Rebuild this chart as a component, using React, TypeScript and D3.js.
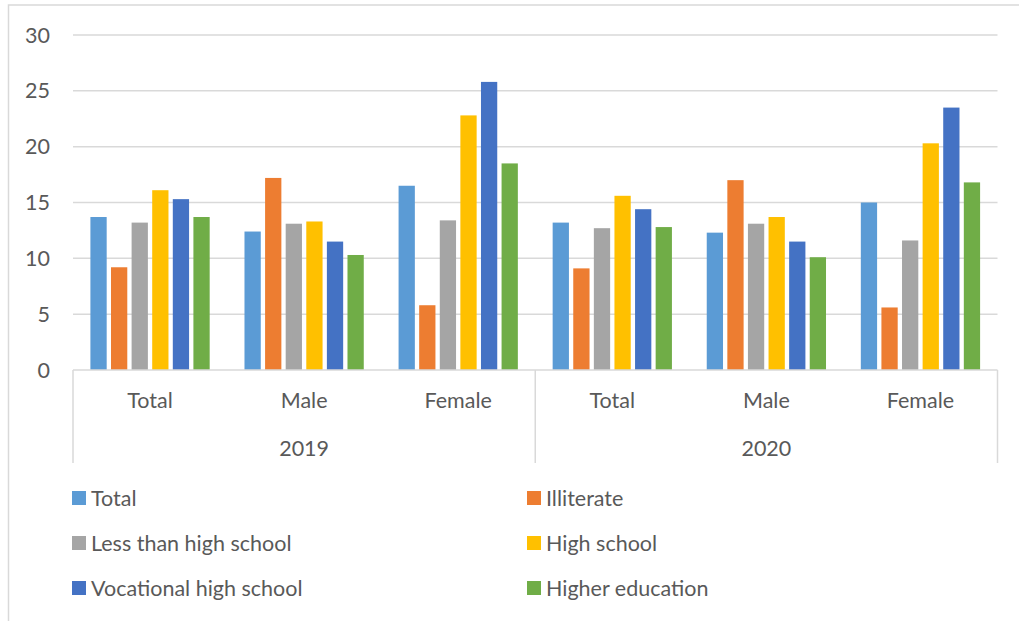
import * as d3 from "d3";

const years = ["2019", "2020"];
const groups = ["Total", "Male", "Female"];
const seriesNames = [
  "Total",
  "Illiterate",
  "Less than high school",
  "High school",
  "Vocational high school",
  "Higher education",
];
const seriesColors = ["#5B9BD5", "#ED7D31", "#A5A5A5", "#FFC000", "#4472C4", "#70AD47"];

// values per category (year x group), in seriesNames order
const total2019 = [13.7, 9.2, 13.2, 16.1, 15.3, 13.7];
const male2019 = [12.4, 17.2, 13.1, 13.3, 11.5, 10.3];
const female2019 = [16.5, 5.8, 13.4, 22.8, 25.8, 18.5];
const total2020 = [13.2, 9.1, 12.7, 15.6, 14.4, 12.8];
const male2020 = [12.3, 17.0, 13.1, 13.7, 11.5, 10.1];
const female2020 = [15.0, 5.6, 11.6, 20.3, 23.5, 16.8];

const yTicks = [0, 5, 10, 15, 20, 25, 30];

const W = 1019;
const H = 621;
const left = 73;
const right = 997.5;
const top = 35;
const bottom = 370;
const font = "Lato, 'Open Sans', sans-serif";
const fs = 21.5;
const textColor = "#595959";
const gridColor = "#D9D9D9";

export default function App() {
  const categories = years.flatMap((yr) => groups.map((g) => `${yr}|${g}`));
  const values = [total2019, male2019, female2019, total2020, male2020, female2020];

  const x = d3.scaleBand<string>().domain(categories).range([left, right]).padding(0);
  const xs = d3
    .scaleBand<string>()
    .domain(seriesNames)
    .range([0, x.bandwidth()])
    .paddingInner(0.21)
    .paddingOuter(0.845);
  const y = d3.scaleLinear().domain([0, 30]).range([bottom, top]);

  const yearX = d3.scaleBand<string>().domain(years).range([left, right]);

  return (
    <div style={{ position: "absolute", left: 0, top: 0 }}>
      <svg width={W} height={H} style={{ display: "block" }} fontFamily={font}>
        <rect x={0} y={0} width={W} height={H} fill="#fff" />
        <rect x={8.5} y={5} width={W + 20} height={H + 20} fill="none" stroke={gridColor} strokeWidth={1.5} />

        {yTicks.map((t) => (
          <g key={t}>
            {t > 0 && (
              <line x1={left} x2={right} y1={y(t)} y2={y(t)} stroke={gridColor} strokeWidth={1.5} />
            )}
            <text x={50} y={y(t)} dy="0.35em" textAnchor="end" fontSize={fs} fill={textColor}>
              {t}
            </text>
          </g>
        ))}

        {categories.map((c, ci) => (
          <g key={c} transform={`translate(${x(c)},0)`}>
            {seriesNames.map((s, si) => (
              <rect
                key={s}
                x={xs(s)}
                y={y(values[ci][si])}
                width={xs.bandwidth()}
                height={y(0) - y(values[ci][si])}
                fill={seriesColors[si]}
              />
            ))}
            <text
              x={x.bandwidth() / 2}
              y={400}
              dy="0.35em"
              textAnchor="middle"
              fontSize={fs}
              fill={textColor}
            >
              {c.split("|")[1]}
            </text>
          </g>
        ))}

        {/* category axis */}
        <line x1={left} x2={right} y1={bottom} y2={bottom} stroke={gridColor} strokeWidth={1.5} />
        {[left, yearX(years[1])!, right].map((px, i) => (
          <line key={i} x1={px} x2={px} y1={bottom} y2={463} stroke={gridColor} strokeWidth={1.5} />
        ))}
        {years.map((yr) => (
          <text
            key={yr}
            x={yearX(yr)! + yearX.bandwidth() / 2}
            y={448}
            dy="0.35em"
            textAnchor="middle"
            fontSize={fs}
            fill={textColor}
          >
            {yr}
          </text>
        ))}

        {/* legend */}
        {seriesNames.map((s, i) => {
          const col = i % 2;
          const row = Math.floor(i / 2);
          const lx = col === 0 ? 72 : 527;
          const ly = 498 + row * 45;
          return (
            <g key={s}>
              <rect x={lx} y={ly - 7} width={14} height={14} fill={seriesColors[i]} />
              <text x={lx + 19} y={ly} dy="0.35em" fontSize={fs} fill={textColor}>
                {s}
              </text>
            </g>
          );
        })}
      </svg>
    </div>
  );
}
